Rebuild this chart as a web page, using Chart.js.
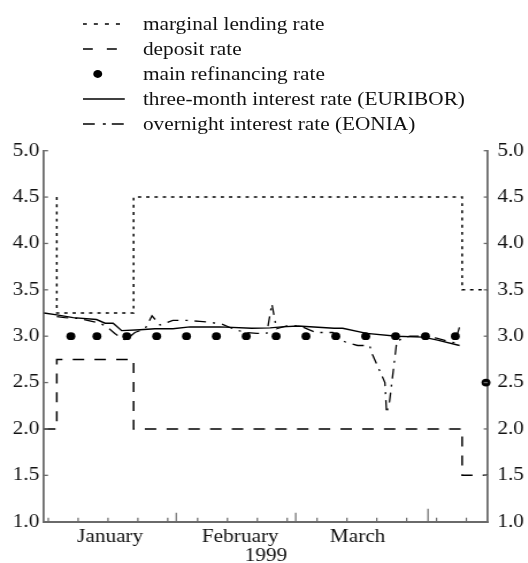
<!DOCTYPE html>
<html>
<head>
<meta charset="utf-8">
<script src="https://cdn.jsdelivr.net/npm/chart.js@4.4.1/dist/chart.umd.min.js"></script>
<style>
  html, body { margin: 0; padding: 0; background: #fff; overflow: hidden; }
  body { width: 528px; height: 563px; position: relative; }
  /* the reference glyphs are wider than tall, so the whole figure is stretched sideways */
  #wrap { position: absolute; left: 0; top: 0; width: 459.1px; height: 563px;
          transform: scaleX(1.15); transform-origin: 0 0; }
  #chart { position: absolute; left: 0; top: 0; }
  .legend { position: absolute; left: 0; top: 0; font-family: 'Liberation Serif', serif; font-size: 18.5px; color: #111; }
  .row { position: absolute; left: 72.2px; height: 22px; display: flex; align-items: center; white-space: nowrap; }
  .row svg { width: 36.5px; height: 22px; }
  .row span { margin-left: 15.6px; }
</style>
</head>
<body>
<div id="wrap">
  <canvas id="chart"></canvas>
  <div class="legend" id="legend"></div>
</div>
<script>
// days counted from 1 January 1999
const marginalDays = [3, 3, 21, 98, 104];
const marginalRates = [4.5, 3.25, 4.5, 3.5, 3.5];

const depositDays = [0, 3, 21, 98, 104];
const depositRates = [2.0, 2.75, 2.0, 1.5, 1.5];

const refiDays = [6.3, 12.4, 19.4, 26.4, 33.4, 40.4, 47.4, 54.4, 61.4, 68.4, 75.4, 82.4, 89.4, 96.4, 103.6];
const refiRates = [3.0, 3.0, 3.0, 3.0, 3.0, 3.0, 3.0, 3.0, 3.0, 3.0, 3.0, 3.0, 3.0, 3.0, 2.5];

const euriborDays = [0, 3, 6.8, 12.3, 14.3, 16.2, 18.2, 22.5, 26, 30.2, 34.2, 41.2, 48.7, 53, 55.7, 59.5, 68, 70, 75.6, 82.7, 88.8, 92, 97.4];
const euriborRates = [3.25, 3.23, 3.20, 3.18, 3.14, 3.14, 3.06, 3.07, 3.08, 3.08, 3.10, 3.10, 3.085, 3.09, 3.10, 3.11, 3.085, 3.085, 3.03, 3.0, 2.99, 2.96, 2.90];

const eoniaDays = [3, 4.9, 8.4, 13.1, 14.8, 16.6, 18.3, 19.2, 21.3, 23.7, 25.3, 27.2, 30.2, 33.5, 36.5, 38.9, 41.7, 44.3, 47.1, 49.9, 52.2, 53.4, 54.5, 56.9, 60, 61.1, 63.7, 67.7, 70.5, 73.5, 76.3, 77.0, 79.9, 80.3, 81.0, 82.7, 85.7, 88.8, 92, 95, 96.3, 97.4];
const eoniaRates = [3.21, 3.20, 3.19, 3.14, 3.10, 3.03, 2.97, 2.96, 3.04, 3.08, 3.22, 3.12, 3.17, 3.17, 3.16, 3.15, 3.13, 3.08, 3.04, 3.03, 3.03, 3.35, 3.08, 3.11, 3.11, 3.09, 3.04, 3.04, 2.94, 2.90, 2.90, 2.80, 2.50, 2.17, 2.30, 2.95, 3.0, 3.0, 2.98, 2.94, 2.93, 3.10];

const monthNames = ['January', 'February', 'March'];
const monthMid = [15.5, 46, 73.5];
const weekTicks = [1, 8, 15, 22, 29, 36, 43, 50, 57, 64, 71, 78, 85, 92, 99];
const monthTicks = [31, 59, 90];
const yTicks = [1, 1.5, 2, 2.5, 3, 3.5, 4, 4.5, 5];

const S = 1.15;
const AXIS = '#6a6a6a';
const FONT = "'Liberation Serif', serif";

const pts = (xs, ys) => xs.map((x, i) => ({ x, y: ys[i] }));

const legendItems = [
    { label: 'marginal lending rate', dash: '3.5 6.1', width: 1.5 },
    { label: 'deposit rate', dash: '8.7 12.2', width: 1.5 },
    { label: 'main refinancing rate', dot: true },
    { label: 'three-month interest rate (EURIBOR)', dash: '', width: 1.5 },
    { label: 'overnight interest rate (EONIA)', dash: '10.4 7 2.6 5.2', width: 1.5 },
];

const legendEl = document.getElementById('legend');
legendItems.forEach((it, i) => {
    const row = document.createElement('div');
    row.className = 'row';
    row.style.top = (13 + i * 25) + 'px';
    const sample = it.dot
        ? '<circle cx="13" cy="11" r="3.9" fill="#000"/>'
        : `<line x1="0" y1="11" x2="36.5" y2="11" stroke="#000" stroke-width="${it.width}" stroke-dasharray="${it.dash}"/>`;
    row.innerHTML = `<svg viewBox="0 0 36.5 22">${sample}</svg><span>${it.label}</span>`;
    legendEl.appendChild(row);
});

// inward tick marks, as in the original figure
const tickMarks = {
    id: 'tickMarks',
    afterDraw(chart) {
        const { ctx, chartArea: a, scales: { x, y } } = chart;
        ctx.save();
        ctx.strokeStyle = AXIS;
        ctx.lineWidth = 1.4 / S;
        const seg = (x1, y1, x2, y2) => { ctx.beginPath(); ctx.moveTo(x1, y1); ctx.lineTo(x2, y2); ctx.stroke(); };
        weekTicks.forEach(d => { const px = x.getPixelForValue(d); seg(px, a.bottom, px, a.bottom - 4); });
        monthTicks.forEach((d, i) => {
            const px = x.getPixelForValue(d);
            seg(px, a.bottom, px, a.bottom - (i === 2 ? 13 : 9));
        });
        ctx.lineWidth = 1.3;
        yTicks.forEach(v => {
            const py = y.getPixelForValue(v);
            seg(a.left, py, a.left + 3.5, py);
            seg(a.right, py, a.right - 3.5, py);
        });
        ctx.restore();
    },
};

Chart.defaults.font.family = FONT;
Chart.defaults.font.size = 18.5;
Chart.defaults.color = '#111';

const yAxis = (position, width, pad) => ({
    type: 'linear',
    position,
    min: 1,
    max: 5,
    grid: { display: false, drawTicks: false },
    border: { display: true, color: AXIS, width: 1.8 },
    ticks: { stepSize: 0.5, padding: pad, callback: v => v.toFixed(1) },
    afterFit: s => { s.width = width; },
});

new Chart(document.getElementById('chart'), {
    type: 'line',
    data: {
        datasets: [
            {
                label: 'main refinancing rate',
                data: pts(refiDays, refiRates),
                showLine: false,
                pointRadius: 3.9,
                pointBackgroundColor: '#000',
                pointBorderWidth: 0,
                clip: false,
            },
            {
                label: 'three-month interest rate (EURIBOR)',
                data: pts(euriborDays, euriborRates),
                borderColor: '#000',
                borderWidth: 1.4,
                pointRadius: 0,
            },
            {
                label: 'overnight interest rate (EONIA)',
                data: pts(eoniaDays, eoniaRates),
                borderColor: '#000',
                borderWidth: 1.3,
                borderDash: [10, 6, 2, 6],
                pointRadius: 0,
            },
            {
                label: 'marginal lending rate',
                data: pts(marginalDays, marginalRates),
                borderColor: '#000',
                borderWidth: 1.5,
                borderDash: [2.9, 4.3],
                stepped: true,
                pointRadius: 0,
            },
            {
                label: 'deposit rate',
                data: pts(depositDays, depositRates),
                borderColor: '#000',
                borderWidth: 1.5,
                borderDash: [10, 8.9],
                stepped: true,
                pointRadius: 0,
            },
        ],
    },
    options: {
        responsive: true,
        maintainAspectRatio: false,
        animation: false,
        layout: { padding: { top: 150.7, left: 0, right: 0, bottom: 0 } },
        plugins: { legend: { display: false }, tooltip: { enabled: false } },
        scales: {
            x: {
                type: 'linear',
                min: 0,
                max: 104,
                grid: { display: false, drawTicks: false },
                border: { display: true, color: AXIS, width: 2 },
                afterBuildTicks: s => { s.ticks = monthMid.map(v => ({ value: v })); },
                ticks: { autoSkip: false, maxRotation: 0, padding: 4, callback: (v, i) => monthNames[i] },
                title: { display: true, text: '1999', padding: { top: 0, bottom: -4 } },
                afterFit: s => { s.height = 41.3; },
            },
            y: yAxis('left', 38.26, 4.1),
            y2: yAxis('right', 35.0, 8.3),
        },
    },
    plugins: [tickMarks],
});
</script>
</body>
</html>
